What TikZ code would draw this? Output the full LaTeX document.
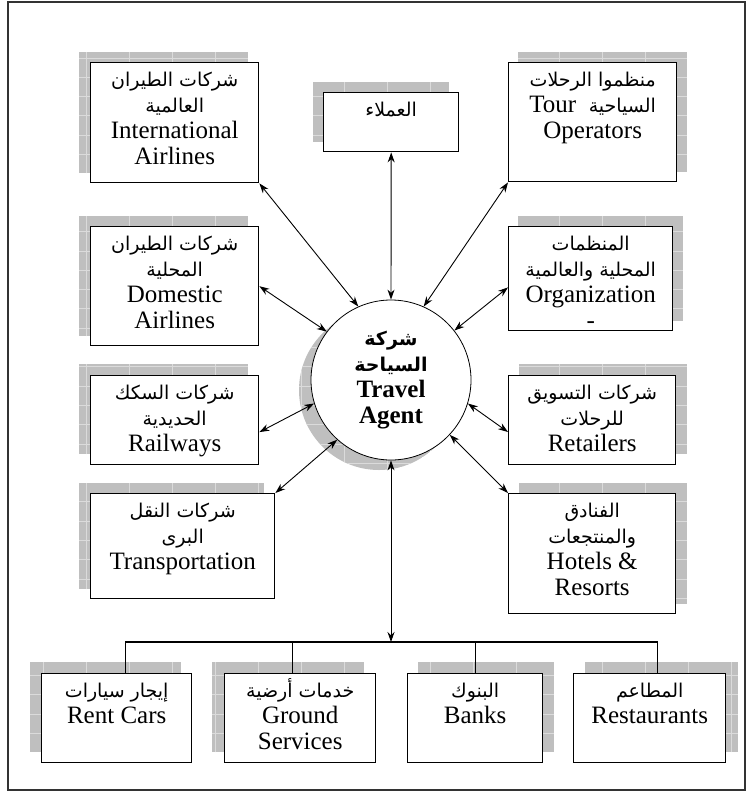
\documentclass[tikz,border=0pt]{standalone}
\usepackage{fontspec}
\setmainfont{Liberation Serif}
\newfontfamily\arabicfont[Script=Arabic]{DejaVu Sans}
\TeXXeTstate=1
\usetikzlibrary{arrows.meta, backgrounds}

% arabic line, right to left
\newcommand{\artext}[1]{{\arabicfont\fontsize{19}{26}\selectfont\beginR #1\endR}}
% box contents: width, height, lines (set from the top)
\newcommand{\cardtext}[3]{\parbox[c][#2pt][t]{#1pt}{\centering\fontsize{25}{26}\selectfont\rule{0pt}{24pt}#3}}
% grey hatched shadow behind a box
\newcommand{\gridshadow}[3]{%
  \begin{scope}
    \clip ([shift={(#2,#3)}]#1.south west) rectangle ([shift={(#2,#3)}]#1.north east);
    \fill[shadow fill] ([shift={(#2,#3)}]#1.south west) rectangle ([shift={(#2,#3)}]#1.north east);
    \draw[shadow grid] ([shift={(#2,#3)}]#1.south west) grid ([shift={(#2,#3)}]#1.north east);
  \end{scope}}

\tikzset{
  entity/.style={draw, line width=1.4pt, fill=white, inner sep=0pt, anchor=north west},
  hub/.style={circle, draw, line width=0.8pt, fill=white, minimum size=160pt, inner sep=0pt,
    align=center, font=\bfseries\fontsize{25}{26}\selectfont},
  link/.style={{Stealth[length=10pt,width=7pt]}-{Stealth[length=10pt,width=7pt]}, line width=0.9pt},
  tree/.style={line width=1.3pt},
  shadow fill/.style={fill=black!25},
  shadow grid/.style={draw=black!14, line width=0.8pt, xstep=43pt, ystep=19.3pt},
}

\begin{document}
\begin{tikzpicture}[x=1pt, y=-1pt]
 \useasboundingbox (0,0) rectangle (752,793);
 \draw[line width=1.2pt, black!80] (8,2) rectangle (745,790);

 % centre
 \node[hub] (agent) at (391,380) {\artext{شركة}\\ \artext{السياحة}\\ Travel\\ Agent};

 % top row
 \node[entity] (intl) at (90,62) {\cardtext{168}{120}{\artext{شركات الطيران}\\ \artext{العالمية}\\ International\\ Airlines}};
 \node[entity] (cust) at (323,92) {\cardtext{135}{59}{\artext{العملاء}}};
 \node[entity] (tour) at (508,62) {\cardtext{168}{119}{\artext{منظموا الرحلات}\\ Tour\ \ \artext{السياحية}\\ Operators}};

 % left and right columns
 \node[entity] (dom) at (90,226) {\cardtext{168}{119}{\artext{شركات الطيران}\\ \artext{المحلية}\\ Domestic\\ Airlines}};
 \node[entity] (org) at (508,226) {\cardtext{164}{104}{\artext{المنظمات}\\ \artext{المحلية والعالمية}\\ Organization\\ -}};
 \node[entity] (rail) at (90,375) {\cardtext{168}{89}{\artext{شركات السكك}\\ \artext{الحديدية}\\ Railways}};
 \node[entity] (retail) at (508,375) {\cardtext{167}{89}{\artext{شركات التسويق}\\ \artext{للرحلات}\\ Retailers}};
 \node[entity] (trans) at (90,493) {\cardtext{184}{105}{\artext{شركات النقل}\\ \artext{البرى}\\ Transportation}};
 \node[entity] (hotel) at (508,493) {\cardtext{167}{120}{\artext{الفنادق}\\ \artext{والمنتجعات}\\ Hotels \&\\ Resorts}};

 % bottom row
 \node[entity] (rent) at (41,673) {\cardtext{150}{89}{\artext{إيجار سيارات}\\ Rent Cars}};
 \node[entity] (ground) at (224,673) {\cardtext{151}{89}{\artext{خدمات أرضية}\\ Ground\\ Services}};
 \node[entity] (banks) at (407,673) {\cardtext{135}{89}{\artext{البنوك}\\ Banks}};
 \node[entity] (rest) at (573,673) {\cardtext{152}{89}{\artext{المطاعم}\\ Restaurants}};
 \coordinate (bus) at (391,642);

 % shadows
 \begin{scope}[on background layer]
   \gridshadow{intl}{-11}{-10}
   \gridshadow{cust}{-10}{-10}
   \gridshadow{tour}{10}{-10}
   \gridshadow{dom}{-11}{-10}
   \gridshadow{org}{10}{-10}
   \gridshadow{rail}{-11}{-11}
   \gridshadow{retail}{11}{-11}
   \gridshadow{trans}{-11}{-10}
   \gridshadow{hotel}{11}{-10}
   \gridshadow{rent}{-11}{-11}
   \gridshadow{ground}{-12}{-11}
   \gridshadow{banks}{11}{-11}
   \gridshadow{rest}{12}{-11}
   \begin{scope}
     \clip ([shift={(-12,10)}]agent.center) circle (80pt);
     \fill[shadow fill] ([shift={(-12,10)}]agent.center) circle (80pt);
     \draw[shadow grid] ([shift={(-100pt,-100pt)}]agent.center) grid ([shift={(80pt,80pt)}]agent.center);
   \end{scope}
 \end{scope}

 % arrows to the travel agent
 \draw[link] (intl.south east) -- (agent.114);
 \draw[link] (cust.south) -- (agent.north);
 \draw[link] (tour.south west) -- (agent.66);
 \draw[link] (dom.east) -- (agent.143);
 \draw[link] (org.186) -- (agent.38);
 \draw[link] (rail.352) -- (agent.197);
 \draw[link] (retail.188) -- (agent.343);
 \draw[link] (trans.north east) -- (agent.228);
 \draw[link] (hotel.north west) -- (agent.317);
 \draw[link] (agent.south) -- (bus);

 % services bus
 \draw[tree] ([xshift=9pt]rent.north) |- (bus) -| ([xshift=8pt]rest.north);
 \draw[tree] ([xshift=-7.5pt]ground.north) -- ([xshift=-7.5pt]ground.north |- bus);
 \draw[tree] (banks.north) -- (banks.north |- bus);
\end{tikzpicture}
\end{document}
